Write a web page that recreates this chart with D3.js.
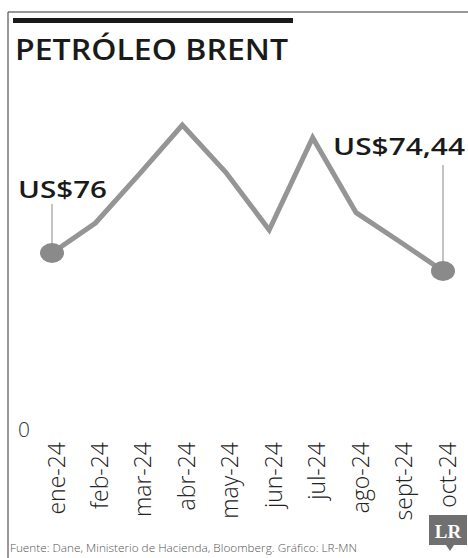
<!DOCTYPE html>
<html><head><meta charset="utf-8">
<script src="https://cdn.jsdelivr.net/npm/d3@7"></script>
<style>body{margin:0;background:#fff}svg{display:block}</style>
</head><body>
<script>
const months = ["ene-24","feb-24","mar-24","abr-24","may-24","jun-24","jul-24","ago-24","sept-24","oct-24"];
const brent = [76, 78.6, 82.8, 87.1, 83.0, 78.0, 86.0, 79.5, 77.0, 74.44];
const title = "PETRÓLEO BRENT";
const firstLabel = "US$76";
const lastLabel = "US$74,44";
const zeroLabel = "0";
const source = "Fuente: Dane, Ministerio de Hacienda, Bloomberg. Gráfico: LR-MN";

const W = 468, H = 558;
const svg = d3.select("body").append("svg").attr("width", W).attr("height", H);
const font = "'Open Sans', sans-serif";

// frame
svg.append("line").attr("x1", 8).attr("x2", W).attr("y1", 12).attr("y2", 12).attr("stroke", "#333").attr("stroke-width", 1.2);
svg.append("line").attr("x1", 8).attr("x2", 8).attr("y1", 12).attr("y2", H).attr("stroke", "#555").attr("stroke-width", 1.2);
svg.append("rect").attr("x", 13).attr("y", 18).attr("width", 280).attr("height", 5).attr("fill", "#1a1a1a");

svg.append("text").attr("x", 15).attr("y", 60).text(title)
  .attr("font-family", font).attr("font-weight", 600).attr("font-size", 28).attr("fill", "#1a1a1a")
  .attr("textLength", 273).attr("lengthAdjust", "spacingAndGlyphs");

const x = d3.scalePoint().domain(months).range([52, 443]);
const y = d3.scaleLinear().domain([74.44, 87.1]).range([271, 125]);

const line = d3.line().x((d, i) => x(months[i])).y(d => y(d));
svg.append("path").datum(brent).attr("d", line).attr("fill", "none")
  .attr("stroke", "#959595").attr("stroke-width", 5).attr("stroke-linejoin", "miter");

// end dots
[0, brent.length - 1].forEach(i => {
  svg.append("ellipse").attr("cx", x(months[i])).attr("cy", y(brent[i])).attr("rx", 12).attr("ry", 10).attr("fill", "#8a8a8a");
});

// leader lines
svg.append("line").attr("x1", x(months[0])).attr("x2", x(months[0])).attr("y1", 204).attr("y2", y(brent[0]) - 6)
  .attr("stroke", "#888").attr("stroke-width", 1);
svg.append("line").attr("x1", x(months[9])).attr("x2", x(months[9])).attr("y1", 165).attr("y2", y(brent[9]) - 6)
  .attr("stroke", "#888").attr("stroke-width", 1);

svg.append("text").attr("x", 18).attr("y", 198).text(firstLabel)
  .attr("font-family", font).attr("font-weight", 600).attr("font-size", 23).attr("fill", "#1a1a1a")
  .attr("textLength", 89).attr("lengthAdjust", "spacingAndGlyphs");
svg.append("text").attr("x", 333).attr("y", 155).text(lastLabel)
  .attr("font-family", font).attr("font-weight", 600).attr("font-size", 23).attr("fill", "#1a1a1a")
  .attr("textLength", 132).attr("lengthAdjust", "spacingAndGlyphs");

// zero label
svg.append("text").attr("x", 18).attr("y", 437).text(zeroLabel)
  .attr("font-family", font).attr("font-weight", 300).attr("font-size", 21).attr("fill", "#333");

// x labels
const xAxis = svg.append("g").attr("transform", "translate(0,442)")
  .call(d3.axisBottom(x).tickSize(0).tickPadding(0));
xAxis.select(".domain").remove();
xAxis.selectAll("text")
  .attr("font-family", font).attr("font-weight", 300).attr("font-size", 23).attr("fill", "#222")
  .attr("text-anchor", "end").attr("dy", null).attr("y", 0).attr("x", 0)
  .attr("transform", "rotate(-90) translate(0,12)");

// source
svg.append("text").attr("x", 10).attr("y", 552).text(source)
  .attr("font-family", font).attr("font-weight", 300).attr("font-size", 11.5).attr("fill", "#555")
  .attr("textLength", 347).attr("lengthAdjust", "spacingAndGlyphs");

// LR logo
const logo = svg.append("g");
logo.append("path").attr("d", "M429,515 h38 v30 h-13 l-4,6 l-4,-6 h-17 z").attr("fill", "#707070");
logo.append("text").attr("x", 448).attr("y", 538).attr("text-anchor", "middle").text("LR")
  .attr("font-family", "'Liberation Serif', serif").attr("font-weight", 700).attr("font-size", 19).attr("fill", "#fff");
</script>
</body></html>
